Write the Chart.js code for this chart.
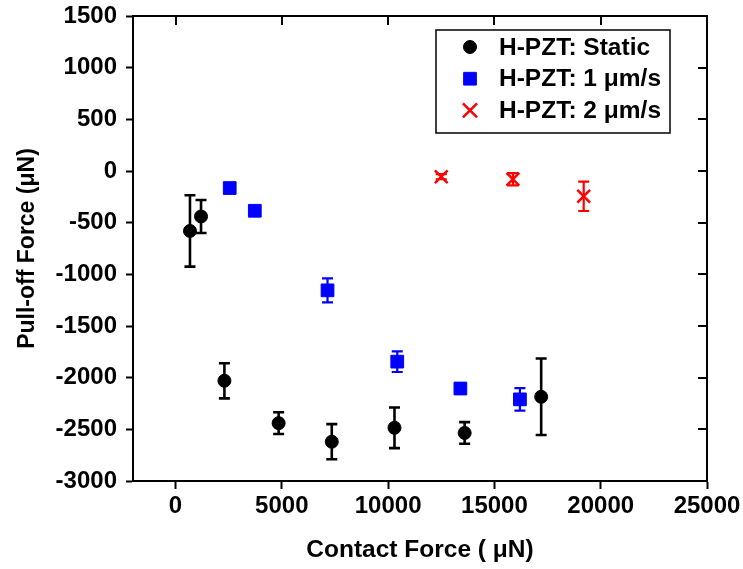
<!DOCTYPE html>
<html><head><meta charset="utf-8">
<script src="https://cdn.jsdelivr.net/npm/chart.js@4/dist/chart.umd.min.js"></script>
<style>html,body{margin:0;padding:0;background:#fff;}#wrap{width:743px;height:569px;}</style>
</head><body><div id="wrap"><canvas id="c" width="743" height="569"></canvas></div>
<script>
// ---- data ----
const staticX   = [680, 1200, 2300, 4850, 7350, 10300, 13600, 17200];
const staticY   = [-580, -440, -2030, -2440, -2620, -2485, -2535, -2185];
const staticErr = [345, 160, 170, 105, 170, 197, 105, 370];

const speed1X   = [2550, 3730, 7150, 10430, 13400, 16200];
const speed1Y   = [-165, -385, -1155, -1845, -2105, -2210];
const speed1Err = [25, 25, 116, 100, 50, 108];

const speed2X   = [12500, 15870, 19200];
const speed2Y   = [-55, -80, -245];
const speed2Err = [25, 60, 142];

const seriesLabels = ['H-PZT: Static', 'H-PZT: 1 \u03BCm/s', 'H-PZT: 2 \u03BCm/s'];
const xTicks = [0, 5000, 10000, 15000, 20000, 25000];
const yTicks = [-3000, -2500, -2000, -1500, -1000, -500, 0, 500, 1000, 1500];
const xTitle = 'Contact Force ( \u03BCN)';
const yTitle = 'Pull-off Force (\u03BCN)';

const FONT = '"Liberation Sans", Arial, sans-serif';

function pts(xs, ys, es) { return xs.map((x, i) => ({x: x, y: ys[i], err: es[i]})); }

const errorBars = {
  id: 'errorBars',
  beforeDatasetsDraw(chart) {
    const ctx = chart.ctx, xs = chart.scales.x, ys = chart.scales.y;
    chart.data.datasets.forEach((ds) => {
      ctx.save();
      ctx.strokeStyle = ds.borderColor;
      ctx.lineWidth = ds.errWidth;
      ds.data.forEach(p => {
        const px = xs.getPixelForValue(p.x);
        const t = ys.getPixelForValue(p.y + p.err);
        const b = ys.getPixelForValue(p.y - p.err);
        ctx.beginPath();
        ctx.moveTo(px, t); ctx.lineTo(px, b);
        ctx.moveTo(px - 5.5, t); ctx.lineTo(px + 5.5, t);
        ctx.moveTo(px - 5.5, b); ctx.lineTo(px + 5.5, b);
        ctx.stroke();
      });
      ctx.restore();
    });
  }
};

const frame = {
  id: 'frame',
  afterDraw(chart) {
    const ctx = chart.ctx, a = chart.chartArea, xs = chart.scales.x, ys = chart.scales.y;
    ctx.save();
    ctx.strokeStyle = '#000';
    ctx.lineWidth = 2;
    ctx.beginPath();
    ctx.moveTo(a.left - 1, a.top); ctx.lineTo(a.right, a.top); ctx.lineTo(a.right, a.bottom + 1);
    xTicks.forEach(v => { const px = Math.round(xs.getPixelForValue(v)); ctx.moveTo(px, a.top); ctx.lineTo(px, a.top + 9); });
    yTicks.forEach(v => { const py = Math.round(ys.getPixelForValue(v)); ctx.moveTo(a.right, py); ctx.lineTo(a.right - 9, py); });
    ctx.stroke();

    // legend
    const bx = a.right - 271, by = a.top + 14, bw = 234, bh = 103;
    ctx.lineWidth = 1.5;
    ctx.strokeRect(bx, by, bw, bh);
    ctx.font = 'bold 24.5px ' + FONT;
    ctx.textBaseline = 'middle';
    ctx.textAlign = 'left';
    chart.data.datasets.forEach((ds, i) => {
      const cy = by + 17 + i * 31.7;
      ctx.fillStyle = ds.backgroundColor;
      ctx.strokeStyle = ds.borderColor;
      ctx.lineWidth = ds.pointBorderWidth;
      Chart.helpers.drawPoint(ctx, {pointStyle: ds.pointStyle, radius: ds.legendRadius, rotation: 0, borderWidth: ds.pointBorderWidth}, bx + 34, cy);
      ctx.fillStyle = '#000';
      ctx.fillText(ds.label, bx + 63, cy + 1);
    });
    ctx.restore();
  }
};

new Chart(document.getElementById('c'), {
  type: 'scatter',
  data: {
    datasets: [
      {label: seriesLabels[0], data: pts(staticX, staticY, staticErr), pointStyle: 'circle', pointRadius: 6.5,
       backgroundColor: '#000', borderColor: '#000', pointBorderWidth: 1, errWidth: 2.6, legendRadius: 6.5},
      {label: seriesLabels[1], data: pts(speed1X, speed1Y, speed1Err), pointStyle: 'rect', pointRadius: 9,
       backgroundColor: '#0000ff', borderColor: '#0000ff', pointBorderWidth: 1, errWidth: 2.2, legendRadius: 9},
      {label: seriesLabels[2], data: pts(speed2X, speed2Y, speed2Err), pointStyle: 'crossRot', pointRadius: 9,
       backgroundColor: '#ff0000', borderColor: '#ff0000', pointBorderWidth: 2.5, errWidth: 2.2, legendRadius: 10}
    ]
  },
  options: {
    responsive: false, animation: false, devicePixelRatio: 1,
    layout: {padding: {left: 0, top: 16, right: 36, bottom: 0}},
    plugins: {legend: {display: false}, tooltip: {enabled: false}},
    scales: {
      x: {
        type: 'linear', position: 'bottom', min: -2000, max: 25000,
        afterBuildTicks: s => { s.ticks = xTicks.map(v => ({value: v})); },
        afterFit: s => { s.height = 88; s.paddingLeft = 0; s.paddingRight = 0; },
        ticks: {font: {family: FONT, size: 24, weight: 'bold'}, color: '#000', padding: 3, maxRotation: 0, autoSkip: false,
                callback: v => String(v)},
        grid: {drawOnChartArea: false, drawTicks: true, tickLength: 8, tickWidth: 2, tickColor: '#000'},
        border: {display: true, color: '#000', width: 2},
        title: {display: true, text: xTitle, color: '#000', font: {family: FONT, size: 24.5, weight: 'bold'}, padding: {top: 0, bottom: 4}}
      },
      y: {
        type: 'linear', position: 'left', min: -3000, max: 1500,
        afterBuildTicks: s => { s.ticks = yTicks.map(v => ({value: v})); },
        afterFit: s => { s.width = 133; s.paddingTop = 0; s.paddingBottom = 0; },
        ticks: {font: {family: FONT, size: 24, weight: 'bold'}, color: '#000', padding: 9, autoSkip: false,
                callback: v => String(v)},
        grid: {drawOnChartArea: false, drawTicks: true, tickLength: 7, tickWidth: 2, tickColor: '#000'},
        border: {display: true, color: '#000', width: 2},
        title: {display: true, text: yTitle, color: '#000', font: {family: FONT, size: 23, weight: 'bold'}, padding: {top: 14, bottom: 0}}
      }
    }
  },
  plugins: [errorBars, frame]
});
</script></body></html>
